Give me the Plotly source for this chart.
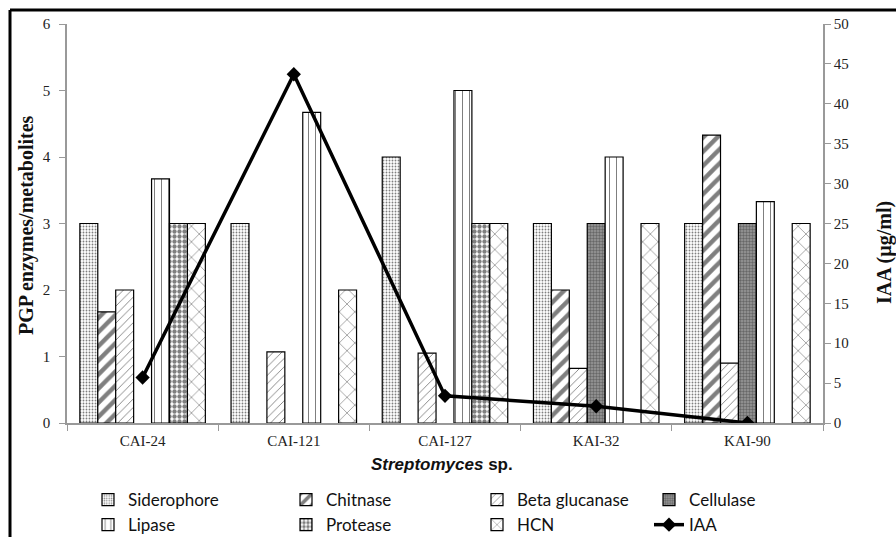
import plotly.graph_objects as go

categories = ["CAI-24", "CAI-121", "CAI-127", "KAI-32", "KAI-90"]
siderophore = [3, 3, 4, 3, 3]
chitnase = [1.67, 0, 0, 2, 4.33]
beta_glucanase = [2, 1.07, 1.05, 0.82, 0.9]
cellulase = [0, 0, 0, 3, 3]
lipase = [3.67, 4.67, 5, 4, 3.33]
protease = [3, 0, 3, 0, 0]
hcn = [3, 2, 3, 3, 3]
iaa = [5.7, 43.7, 3.4, 2.1, 0]

W, H = 896, 537
L, R, T, B = 67, 73, 24, 114
pw, ph = W - L - R, H - T - B

def px2x(px):
    return (px - L) / pw

def py2y(py):
    return (H - B - py) / ph

def nz(vals):
    return [v if v != 0 else None for v in vals]

series = [
    ("Siderophore", siderophore, "legend", dict(shape=".", size=3, solidity=0.3, fgcolor="black", bgcolor="white")),
    ("Chitnase", chitnase, "legend2", dict(shape="/", size=10, solidity=0.45, fgcolor="black", bgcolor="white")),
    ("Beta glucanase", beta_glucanase, "legend3", dict(shape="/", size=6, solidity=0.15, fgcolor="black", bgcolor="white")),
    ("Cellulase", cellulase, "legend4", dict(shape=".", size=3, solidity=0.5, fgcolor="#333333", bgcolor="#9a9a9a")),
    ("Lipase", lipase, "legend", dict(shape="|", size=7, solidity=0.15, fgcolor="black", bgcolor="white")),
    ("Protease", protease, "legend2", dict(shape=".", size=5, solidity=0.6, fgcolor="black", bgcolor="white")),
    ("HCN", hcn, "legend3", dict(shape="x", size=11, solidity=0.12, fgcolor="black", bgcolor="white")),
]

fig = go.Figure()
for name, vals, lg, pat in series:
    fig.add_trace(go.Bar(
        x=categories, y=nz(vals), name=name, legend=lg,
        marker=dict(color="white", line=dict(color="black", width=1.2), pattern=pat),
    ))

fig.add_trace(go.Scatter(
    x=categories, y=iaa, name="IAA", yaxis="y2", mode="lines+markers", legend="legend4",
    line=dict(color="black", width=3.5),
    marker=dict(symbol="diamond", size=11, color="black"),
))

tickfont = dict(family="Liberation Serif", size=15, color="#222222")
titlefont = dict(family="Liberation Serif", size=20, color="#111111")
legfont = dict(family="Lato", size=17, color="#111111")

def leg(px_left):
    return dict(orientation="v", x=px2x(px_left), xanchor="left", y=py2y(482), yanchor="top",
                font=legfont, tracegroupgap=0, bgcolor="rgba(0,0,0,0)", traceorder="normal")

fig.update_layout(
    width=W, height=H,
    margin=dict(l=L, r=R, t=T, b=B, autoexpand=False),
    paper_bgcolor="white", plot_bgcolor="white",
    barmode="group", bargap=0.17, bargroupgap=0,
    showlegend=True,
    legend=leg(88), legend2=leg(286), legend3=leg(477), legend4=leg(649),
    xaxis=dict(
        type="category", showline=True, linecolor="#999999", linewidth=1.5,
        ticks="outside", tickson="boundaries", ticklen=6, tickcolor="#999999",
        tickfont=tickfont, showgrid=False, ticklabelstandoff=3,
    ),
    yaxis=dict(
        range=[0, 6], dtick=1, showline=True, linecolor="#999999", linewidth=1.5,
        ticks="outside", ticklen=6, tickcolor="#999999", tickfont=tickfont,
        showgrid=False, zeroline=False, ticklabelstandoff=6,
    ),
    yaxis2=dict(
        range=[0, 50], dtick=5, overlaying="y", side="right", showline=True,
        linecolor="#999999", linewidth=1.5, ticks="outside", ticklen=6,
        tickcolor="#999999", tickfont=tickfont, showgrid=False, zeroline=False,
    ),
    annotations=[
        dict(text="<b>PGP enzymes/metabolites</b>", textangle=-90, font=titlefont,
             xref="paper", yref="paper", x=px2x(26), y=py2y(225),
             xanchor="center", yanchor="middle", showarrow=False),
        dict(text="<b>IAA (µg/ml)</b>", textangle=-90, font=titlefont,
             xref="paper", yref="paper", x=px2x(884), y=py2y(253),
             xanchor="center", yanchor="middle", showarrow=False),
        dict(text="<b><i>Streptomyces</i> sp.</b>",
             font=dict(family="Liberation Sans", size=17, color="#111111"),
             xref="paper", yref="paper", x=px2x(442), y=py2y(465),
             xanchor="center", yanchor="middle", showarrow=False),
    ],
    shapes=[
        dict(type="line", xref="paper", yref="paper", x0=px2x(10), x1=px2x(W + 5),
             y0=py2y(10), y1=py2y(10), line=dict(color="black", width=3)),
        dict(type="line", xref="paper", yref="paper", x0=px2x(10), x1=px2x(10),
             y0=py2y(10), y1=py2y(H + 5), line=dict(color="black", width=3)),
    ],
)

fig.write_html("out.html")
